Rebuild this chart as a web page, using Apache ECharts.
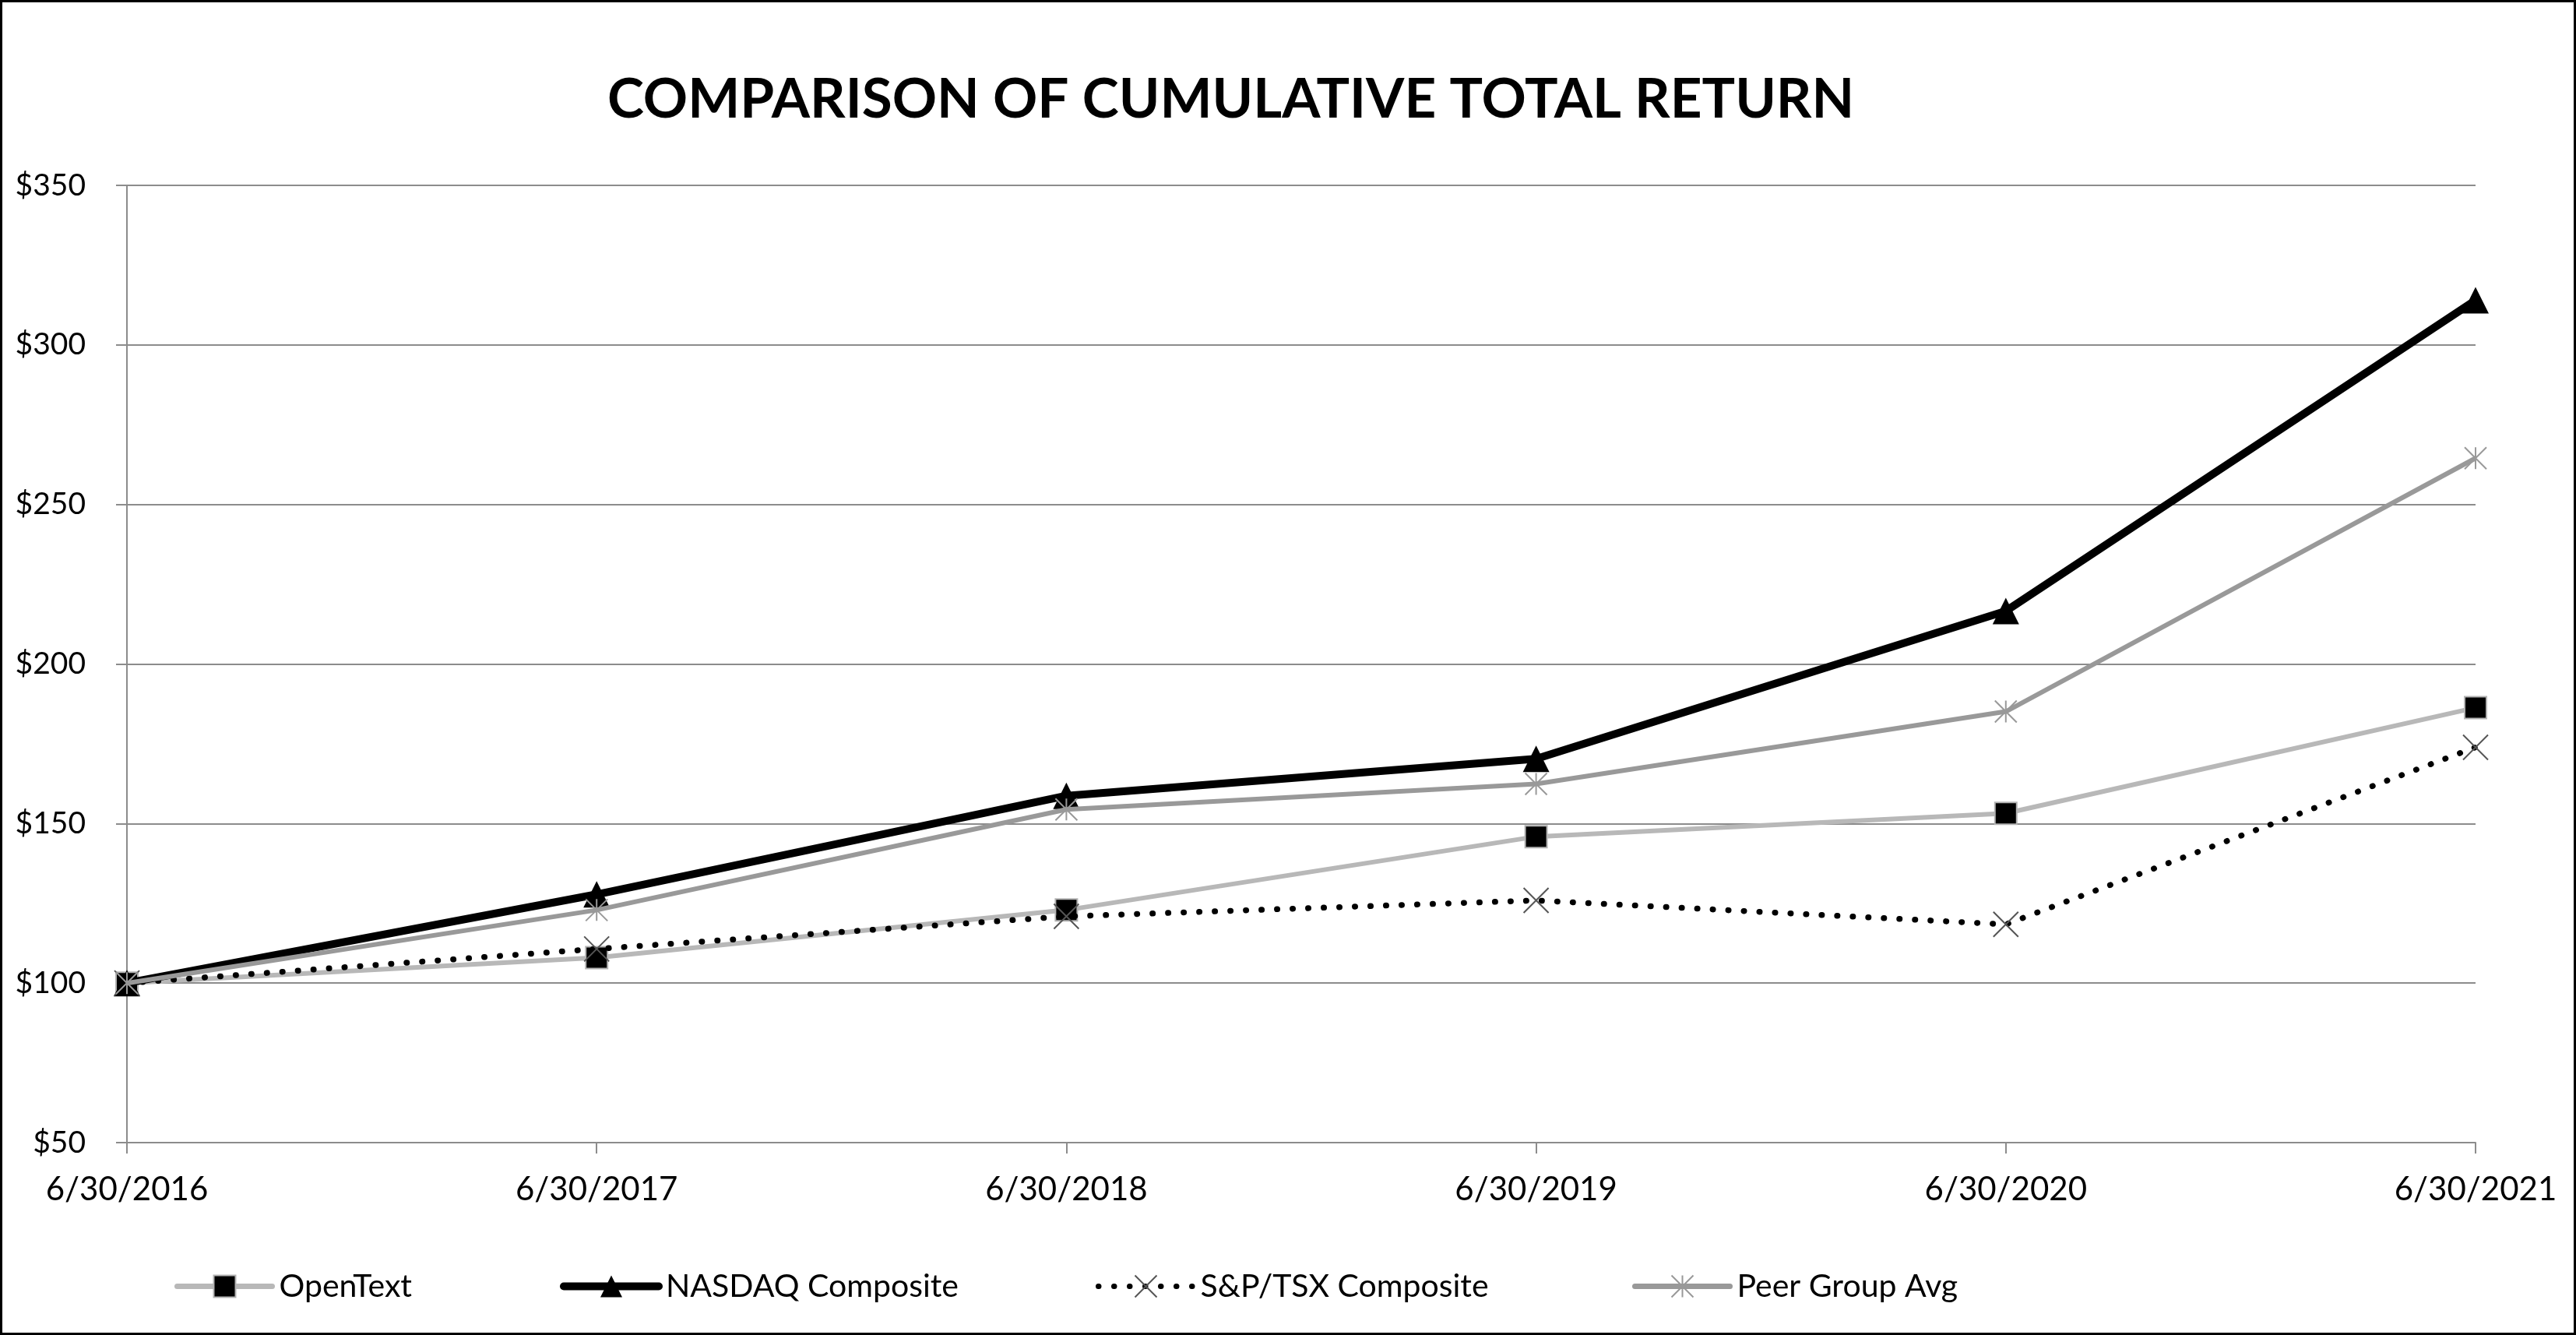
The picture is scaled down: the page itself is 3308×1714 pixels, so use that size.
<!DOCTYPE html>
<html>
<head>
<meta charset="utf-8">
<script src="https://cdn.jsdelivr.net/npm/echarts@6/dist/echarts.min.js"></script>
<style>
html,body{margin:0;padding:0;background:#fff;}
#chart{width:3308px;height:1714px;}
</style>
</head>
<body>
<div id="chart"></div>
<script>
var categories = ['6/30/2016', '6/30/2017', '6/30/2018', '6/30/2019', '6/30/2020', '6/30/2021'];
var openText = [100, 108.0, 122.9, 145.9, 153.2, 186.3];
var nasdaq = [100, 127.8, 158.7, 170.3, 216.6, 314.0];
var spTsx = [100, 110.7, 120.9, 125.9, 118.4, 173.9];
var peer = [100, 122.9, 154.4, 162.4, 185.1, 264.5];
var seriesNames = ['OpenText', 'NASDAQ Composite', 'S&P/TSX Composite', 'Peer Group Avg'];
var yMin = 50, yMax = 350, yStep = 50;
var titleText = 'COMPARISON OF CUMULATIVE TOTAL RETURN';

var FONT = 'Lato';
var X_PATH = 'path://M0,0 L10,10 M10,0 L0,10';
var STAR_PATH = 'path://M0,0 L10,10 M10,0 L0,10 M5,0 L5,10';

var chart = echarts.init(document.getElementById('chart'), null, {renderer: 'canvas'});

function legendFor(name, left, lineWidth) {
  return {
    data: [name],
    left: left,
    top: 1631,
    padding: 0,
    itemWidth: 122,
    itemHeight: 35,
    itemGap: 0,
    selectedMode: false,
    lineStyle: {width: lineWidth, cap: 'round'},
    textStyle: {fontFamily: FONT, fontSize: 41, color: '#000', padding: [0, 0, 0, 4]}
  };
}

var option = {
  animation: false,
  backgroundColor: '#fff',
  title: {
    text: titleText,
    left: 780,
    top: 93,
    padding: 0,
    textStyle: {fontFamily: FONT, fontWeight: 'bold', fontSize: 71, color: '#000'}
  },
  legend: [
    legendFor(seriesNames[0], 224, 7),
    legendFor(seriesNames[1], 719, 10),
    legendFor(seriesNames[2], 1407, 7),
    legendFor(seriesNames[3], 2096, 7)
  ],
  grid: {left: 163, right: 129, top: 238, bottom: 247, containLabel: false},
  xAxis: {
    type: 'category',
    data: categories,
    boundaryGap: false,
    axisLine: {show: true, lineStyle: {color: '#8c8c8c', width: 2}},
    axisTick: {show: true, length: 14, lineStyle: {color: '#8c8c8c', width: 2}},
    axisLabel: {fontFamily: FONT, fontSize: 42, color: '#000', margin: 39},
    splitLine: {show: false}
  },
  yAxis: {
    type: 'value',
    min: yMin,
    max: yMax,
    interval: yStep,
    axisLine: {show: true, lineStyle: {color: '#8c8c8c', width: 2}},
    axisTick: {show: true, length: 14, lineStyle: {color: '#8c8c8c', width: 2}},
    axisLabel: {fontFamily: FONT, fontSize: 39, color: '#000', margin: 53, formatter: function (v) { return '$' + v; }},
    splitLine: {show: true, lineStyle: {color: '#8c8c8c', width: 2}}
  },
  graphic: [{
    type: 'rect',
    z: 100,
    silent: true,
    shape: {x: 1.5, y: 1.5, width: 3305, height: 1711},
    style: {fill: 'none', stroke: '#000', lineWidth: 3}
  }],
  series: [
    {
      name: seriesNames[0],
      type: 'line',
      data: openText,
      symbol: 'rect',
      symbolSize: 28,
      itemStyle: {color: '#000', borderColor: '#b3b3b3', borderWidth: 2},
      lineStyle: {color: '#b8b8b8', width: 6},
      z: 2
    },
    {
      name: seriesNames[1],
      type: 'line',
      data: nasdaq,
      symbol: 'triangle',
      symbolSize: 34,
      itemStyle: {color: '#000'},
      lineStyle: {color: '#000', width: 10},
      z: 3
    },
    {
      name: seriesNames[2],
      type: 'line',
      data: spTsx,
      symbol: X_PATH,
      symbolSize: 32,
      itemStyle: {color: 'none', borderColor: '#555', borderWidth: 2},
      lineStyle: {color: '#000', width: 7.5, type: [0.5, 19.5], cap: 'round'},
      z: 4
    },
    {
      name: seriesNames[3],
      type: 'line',
      data: peer,
      symbol: STAR_PATH,
      symbolSize: 28,
      itemStyle: {color: 'none', borderColor: '#999', borderWidth: 2},
      lineStyle: {color: '#999', width: 6},
      z: 5
    }
  ]
};
chart.setOption(option);
</script>
</body>
</html>
